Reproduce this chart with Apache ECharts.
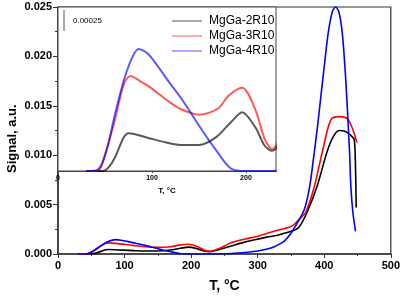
<!DOCTYPE html>
<html>
<head>
<meta charset="utf-8">
<script src="https://cdn.jsdelivr.net/npm/echarts@6/dist/echarts.min.js"></script>
</head>
<body style="margin:0">
<div id="main" style="width:403px;height:298px;"></div>
<script type="text/javascript">
// temperature (°C) and signal (a.u.)
var names = ['MgGa-2R10', 'MgGa-3R10', 'MgGa-4R10']

var tBlack = [30, 48, 55, 61, 70, 75, 97, 115, 132, 150, 168, 184, 196, 210, 220, 228, 240, 262, 280, 300, 312, 330, 347, 355, 362, 374, 389, 404, 413, 422, 432, 440, 445, 447, 448]
var sBlack = [0, 0, 0.00006, 0.00017, 0.0004, 0.00045, 0.00039, 0.00034, 0.00031, 0.00031, 0.0004, 0.00058, 0.0007, 0.00052, 0.0003, 0.00024, 0.0004, 0.00084, 0.0012, 0.0015, 0.00168, 0.0019, 0.00223, 0.0024, 0.0027, 0.0042, 0.0068, 0.0103, 0.0118, 0.0125, 0.0124, 0.012, 0.0116, 0.0085, 0.0047]

var tRed = [30, 44, 50, 60, 70, 77, 90, 100, 115, 130, 150, 170, 182, 196, 210, 220, 228, 240, 262, 280, 300, 312, 330, 347, 355, 362, 372, 385, 397, 410, 422, 436, 449]
var sRed = [0, 0.00002, 0.0002, 0.00058, 0.00103, 0.00113, 0.00105, 0.00098, 0.00085, 0.00074, 0.00067, 0.00074, 0.0009, 0.00099, 0.00073, 0.00038, 0.00026, 0.0005, 0.00118, 0.0015, 0.0018, 0.00206, 0.0024, 0.0027, 0.003, 0.0035, 0.0042, 0.0068, 0.0103, 0.0136, 0.0139, 0.0136, 0.0113]

var tBlue = [30, 40, 50, 61, 73, 86, 95, 104, 118, 132, 153, 168, 184, 200, 220, 260, 300, 320, 330, 340, 350, 360, 370, 378, 385, 390, 395, 400, 406, 412, 417, 422, 427, 431, 434, 436, 438, 440, 443, 447]
var sBlue = [0, 0, 0.00018, 0.00069, 0.00118, 0.00145, 0.0014, 0.00128, 0.00106, 0.00085, 0.00049, 0.00025, 0.00003, 0, 0, 0.00005, 0.0003, 0.0006, 0.0009, 0.0013, 0.0021, 0.0032, 0.0045, 0.0068, 0.0103, 0.013, 0.016, 0.019, 0.0224, 0.0245, 0.025, 0.0245, 0.0224, 0.019, 0.0156, 0.013, 0.0103, 0.0068, 0.0042, 0.0023]

var colors = ['#000000', '#ff0000', '#0000ff']

function zip(t, s) {
	var out = []
	for (var i = 0; i < t.length; i++) out.push([t[i], s[i]])
	return out
}
var sets = [zip(tBlack, sBlack), zip(tRed, sRed), zip(tBlue, sBlue)]

var myChart = echarts.init(document.getElementById('main'))

var series = []
for (var k = 0; k < 3; k++) {
	series.push({
		name: names[k], type: 'line', xAxisIndex: 0, yAxisIndex: 0,
		data: sets[k], symbol: 'none', smooth: 0.3,
		lineStyle: { color: colors[k], width: 1.6 }, itemStyle: { color: colors[k] },
		z: 3
	})
}
for (var k = 0; k < 3; k++) {
	series.push({
		name: names[k], type: 'line', xAxisIndex: 1, yAxisIndex: 1,
		data: sets[k], symbol: 'none', smooth: 0.3,
		lineStyle: { color: colors[k], width: 2, opacity: 0.65 }, itemStyle: { color: colors[k] },
		z: 6
	})
}

var axisFont = { fontFamily: 'Liberation Sans, Arial', fontWeight: 'bold', color: '#000' }

option = {
	animation: false,
	backgroundColor: '#fff',
	grid: [
		{ left: 58, top: 7, right: 11, bottom: 44, show: true, borderColor: '#333', borderWidth: 1.2, backgroundColor: '#fff' },
		{ left: 58, top: 7, width: 218, height: 164, show: true, borderColor: '#444', borderWidth: 1, backgroundColor: '#fff', z: 4 }
	],
	legend: {
		data: names, orient: 'vertical', left: 167, top: 10,
		icon: 'rect', itemWidth: 30, itemHeight: 1.5, itemGap: 3,
		textStyle: { fontFamily: 'Liberation Sans, Arial', fontSize: 12, color: '#000', padding: [0, 0, 0, 2] },
		itemStyle: { opacity: 0.45 },
		z: 8
	},
	xAxis: [{
		gridIndex: 0, type: 'value', min: 0, max: 500, interval: 100,
		name: 'T, °C', nameLocation: 'middle', nameGap: 25,
		nameTextStyle: Object.assign({ fontSize: 14 }, axisFont),
		axisLine: { lineStyle: { color: '#333', width: 1.5 } },
		axisTick: { length: 4, lineStyle: { color: '#333' } },
		minorTick: { show: true, splitNumber: 2, length: 2, lineStyle: { color: '#333' } },
		axisLabel: Object.assign({ fontSize: 11, margin: 6 }, axisFont),
		splitLine: { show: false }
	}, {
		gridIndex: 1, type: 'value', min: 0, max: 232, interval: 100,
		name: 'T, °C', nameLocation: 'middle', nameGap: 15,
		nameTextStyle: Object.assign({ fontSize: 8 }, axisFont),
		axisLine: { lineStyle: { color: '#444', width: 1 } },
		axisTick: { length: 2, lineStyle: { color: '#444' } },
		axisLabel: Object.assign({ fontSize: 7, margin: 4, showMaxLabel: false }, axisFont),
		splitLine: { show: false }, z: 5
	}],
	yAxis: [{
		gridIndex: 0, type: 'value', min: 0, max: 0.025, interval: 0.005,
		axisLine: { show: true, lineStyle: { color: '#333', width: 1.5 } },
		axisTick: { show: true, length: 5, lineStyle: { color: '#333' } },
		minorTick: { show: true, splitNumber: 2, length: 3, lineStyle: { color: '#333' } },
		axisLabel: Object.assign({ fontSize: 11, margin: 6, formatter: function (v) { return v.toFixed(3) } }, axisFont),
		splitLine: { show: false }
	}, {
		gridIndex: 1, type: 'value', min: 0, max: 0.00195, show: false
	}],
	graphic: [
		{ type: 'text', x: 6, y: 173, rotation: Math.PI / 2, style: { text: 'Signal, a.u.', fontSize: 13, fill: '#000', fontFamily: 'Liberation Sans, Arial', fontWeight: 'bold' } },
		{ type: 'line', shape: { x1: 64, y1: 10, x2: 64, y2: 31 }, style: { stroke: '#aaa', lineWidth: 2 }, z: 10 },
		{ type: 'text', x: 73, y: 17, style: { text: '0.00025', fontSize: 8, fill: '#000', fontFamily: 'Liberation Sans, Arial' }, z: 10 }
	],
	series: series
}
myChart.setOption(option)
</script>
</body>
</html>
